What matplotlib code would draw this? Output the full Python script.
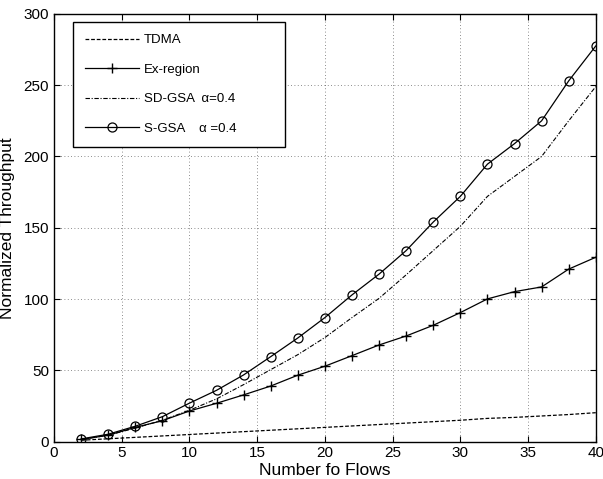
import matplotlib
matplotlib.use("Agg")
import matplotlib.pyplot as plt

flows = [2, 4, 6, 8, 10, 12, 14, 16, 18, 20, 22, 24, 26, 28, 30, 32, 34, 36, 38, 40]

tdma = [1, 2, 3, 4, 5, 6, 7, 8, 9, 10, 11, 12, 13, 14, 15, 16.3, 17, 18, 19, 20.3]
ex_region = [1.5, 4.5, 10, 14.7, 21.5, 26.9, 32.8, 39, 46.6, 52.9,
             60.3, 67.8, 74.1, 81.6, 90.5, 100.1, 105.2, 108.5, 121, 129.3]
sd_gsa = [1.5, 4.5, 9.5, 15, 22, 30, 40, 50.5, 61, 73,
          87, 100.5, 117, 134, 151, 172, 186, 200, 225, 249]
s_gsa = [1.9, 5.2, 10.8, 17.5, 27, 36, 46.8, 59.6, 72.7, 87,
         102.9, 117.5, 134, 154, 172, 194.6, 209, 225, 253, 277.5]

xticks = [0, 5, 10, 15, 20, 25, 30, 35, 40]
yticks = [0, 50, 100, 150, 200, 250, 300]

plt.rcParams['font.family'] = ['Liberation Sans', 'DejaVu Sans']

fig = plt.figure(figsize=(6.03, 4.79), dpi=100)
ax = fig.add_axes([0.0896, 0.078, 0.8984, 0.893])

ax.plot(flows, tdma, color='black', linestyle=(0, (3, 1.5)), linewidth=0.9, label='TDMA')
ax.plot(flows, ex_region, color='black', linewidth=0.9, marker='+', markersize=7,
        markeredgewidth=1.0, label='Ex-region')
ax.plot(flows, sd_gsa, color='black', linestyle=(0, (4, 1.5, 1, 1.5)), linewidth=0.8,
        label='SD-GSA  α=0.4')
ax.plot(flows, s_gsa, color='black', linewidth=0.9, marker='o', markersize=6.5,
        markerfacecolor='none', markeredgewidth=0.9, label='S-GSA    α =0.4')

ax.set_xlim(0, 40)
ax.set_ylim(0, 300)
ax.set_xticks(xticks)
ax.set_yticks(yticks)
ax.tick_params(direction='in', top=True, right=True, labelsize=11, length=4, width=0.8)
ax.grid(True, linestyle=(0, (1, 3)), color='black', linewidth=0.6, alpha=0.6)
for sp in ax.spines.values():
    sp.set_linewidth(1.0)

ax.set_xlabel('Number fo Flows', fontsize=12.5, labelpad=2)
ax.set_ylabel('Normalized Throughput', fontsize=12.5, labelpad=6)

leg = ax.legend(loc='upper left', bbox_to_anchor=(0.0345, 0.5, 0.392, 0.482),
                mode='expand', fontsize=9.5, frameon=True, fancybox=False,
                handlelength=4.1, handletextpad=0.35, labelspacing=1.3,
                borderpad=0.95, borderaxespad=0)
leg.get_frame().set_edgecolor('black')
leg.get_frame().set_linewidth(1.0)
leg.get_frame().set_alpha(1)

fig.savefig('out.png', dpi=100)
